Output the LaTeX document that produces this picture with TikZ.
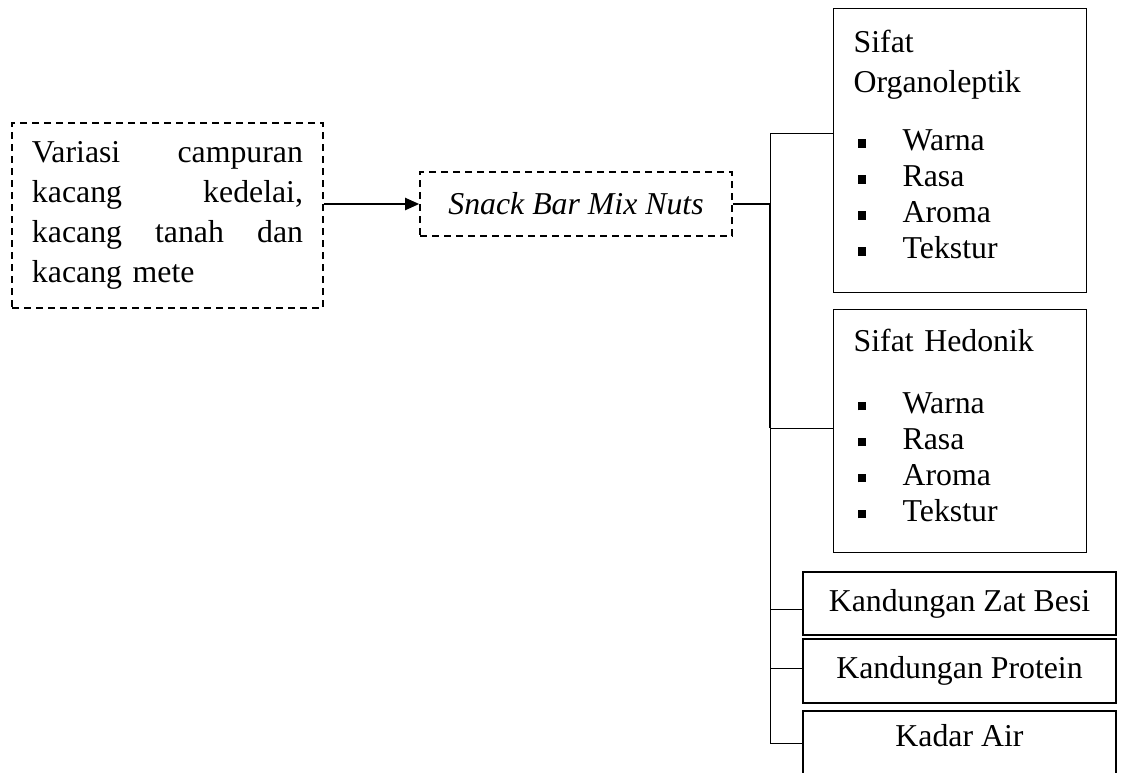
\documentclass[tikz,border=0pt]{standalone}
\usepackage{fontspec}
\setmainfont{Liberation Serif}
\usetikzlibrary{arrows.meta}
\newcommand{\rata}[1]{\makebox[135.5pt]{#1}}
\newcommand{\butir}[1]{\makebox[24.5pt][l]{\hspace{2pt}\raisebox{1.4pt}{\rule{4.2pt}{4.2pt}}}#1}
\tikzset{
  kotakputus/.style={draw, dash pattern=on 3.5pt off 2.5pt, line width=0.8pt, inner sep=0pt},
  kotak/.style={draw, line width=0.65pt, inner sep=0pt},
  cabang/.style={line width=0.5pt},
  batang/.style={line width=1pt},
}

\begin{document}
\begin{tikzpicture}[x=0.5pt, y=-0.5pt, font=\fontsize{15.9}{18}\selectfont]
\useasboundingbox (0,0) rectangle (1125,772);

% input and product
\node[kotakputus, minimum width=155.5pt, minimum height=92.5pt, text width=135.5pt, align=left] (variasi) at (167.5,215.5)
  {\rata{Variasi\hfill campuran}\\[2pt] \rata{kacang\hfill kedelai,}\\[2pt] \rata{kacang\hfill tanah\hfill dan}\\[2pt] kacang mete};
\node[kotakputus, minimum width=156pt, minimum height=32pt] (snack) at (576,204) {\itshape Snack Bar Mix Nuts};
\draw[line width=1pt, -{Triangle[length=7pt,width=6pt]}] (variasi.east |- snack.west) -- (snack.west);

% parameters
\node[kotak, anchor=north west, minimum width=126.5pt, minimum height=142pt, text width=106.5pt, align=left] (organo) at (833,8)
  {Sifat\\[2pt]Organoleptik\\[11pt]\butir{Warna}\\ \butir{Rasa}\\ \butir{Aroma}\\ \butir{Tekstur}\vspace{6pt}};
\node[kotak, anchor=north west, minimum width=126.5pt, minimum height=121.5pt, text width=106.5pt, align=left] (hedonik) at (833,309)
  {Sifat Hedonik\\[13pt]\butir{Warna}\\ \butir{Rasa}\\ \butir{Aroma}\\ \butir{Tekstur}\vspace{6pt}};
\node[kotak, minimum width=156.5pt, minimum height=31.5pt] (besi) at (959.5,603.5) {Kandungan Zat Besi};
\node[kotak, minimum width=156.5pt, minimum height=32pt] (protein) at (959.5,671) {Kandungan Protein};
\node[kotak, minimum width=156.5pt, minimum height=32pt, text depth=8pt] (kadar) at (959.5,743) {Kadar Air};

% tree
\coordinate (c1) at (770,133);
\coordinate (c2) at (770,428);
\coordinate (c3) at (770,609);
\coordinate (c4) at (770,668);
\coordinate (c5) at (770,743);
\draw[batang] (snack.east) -- (snack.east -| c1) -- (c2);
\draw[cabang] (c1) -- (c5);
\foreach \c/\n in {c1/organo, c2/hedonik, c3/besi, c4/protein, c5/kadar}
  \draw[cabang] (\c) -- (\c -| \n.west);
\end{tikzpicture}
\end{document}
